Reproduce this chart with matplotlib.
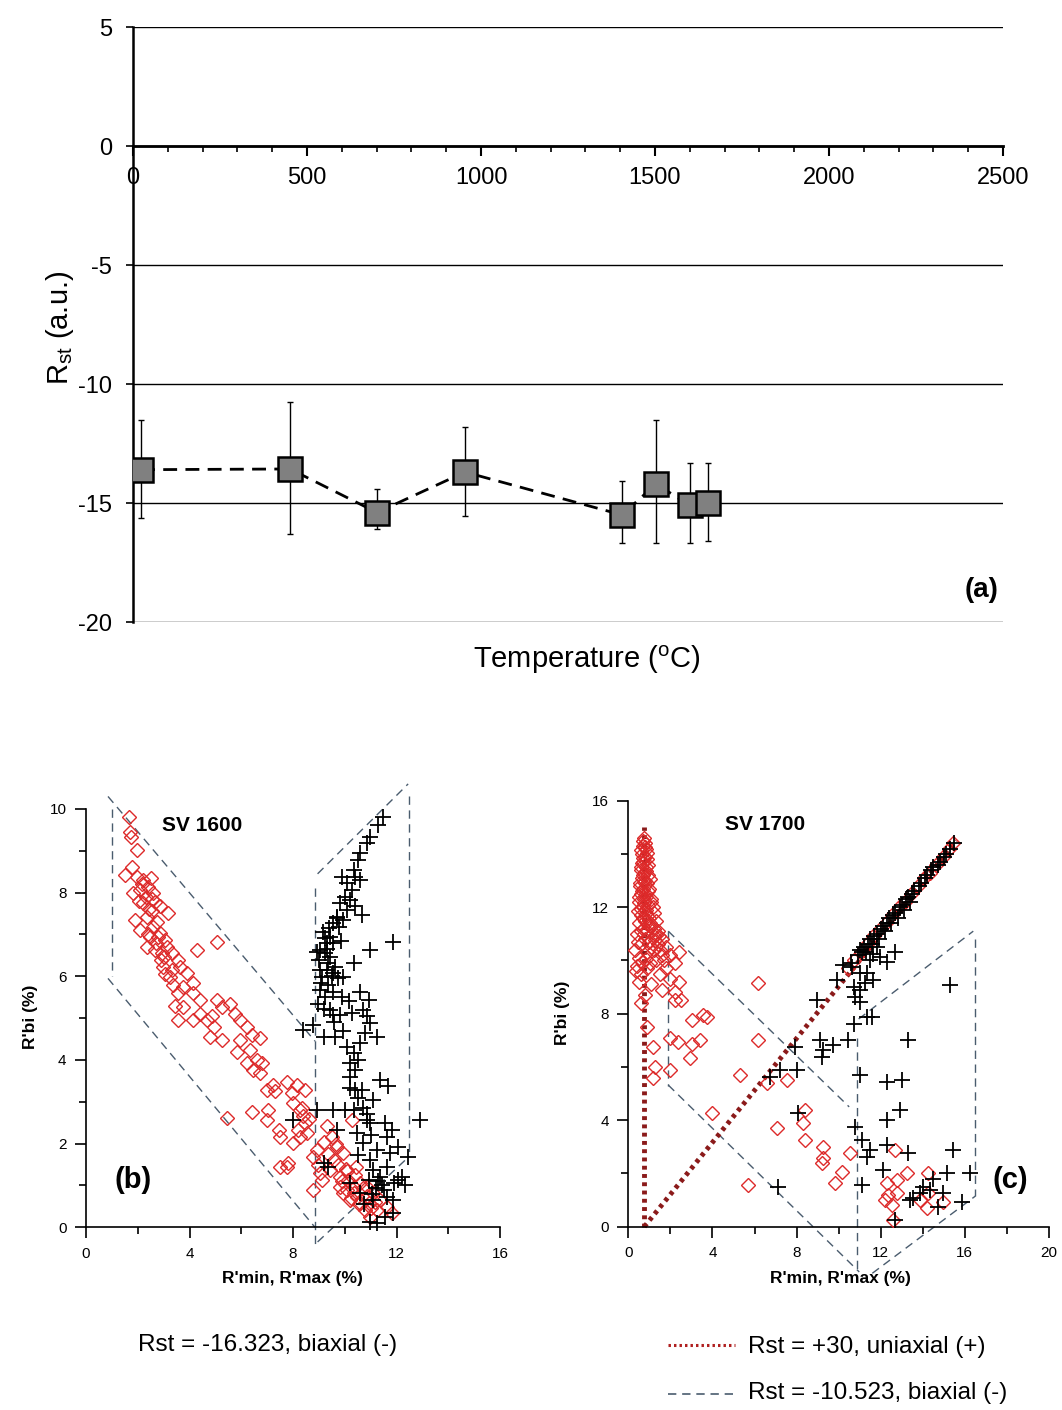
import matplotlib
matplotlib.use("Agg")
import matplotlib.pyplot as plt
from matplotlib.lines import Line2D
from matplotlib.ticker import MultipleLocator, FixedLocator

plt.rcParams['font.family'] = ['Liberation Sans', 'DejaVu Sans']
plt.rcParams['axes.unicode_minus'] = False
NARROW = ['Liberation Sans Narrow', 'Liberation Sans', 'DejaVu Sans']

# ---------------- panel (a) data ----------------
temp = [23, 451, 701, 954, 1405, 1503, 1600, 1652]
rst = [-13.6, -13.57, -15.4, -13.7, -15.5, -14.2, -15.1, -15.0]
err_low = [2.05, 2.73, 0.7, 1.85, 1.2, 2.5, 1.6, 1.6]
err_up = [2.1, 2.82, 0.97, 1.9, 1.44, 2.7, 1.8, 1.7]
a_yticks = [5, 0, -5, -10, -15, -20]
a_xticks = [0, 500, 1000, 1500, 2000, 2500]

# ---------------- panel (b) data : SV 1600 ----------------
b_dia_x = [1.68, 1.70, 1.73, 1.96, 1.77, 1.51, 1.96, 2.22, 1.83, 2.09, 2.41, 2.60, 2.67, 2.22, 1.89,
           2.35, 2.86, 3.18, 2.09, 2.60, 2.47, 2.86, 3.06, 2.35, 2.67, 3.12, 3.31, 4.28, 5.05, 2.99,
           3.31, 3.64, 3.25, 3.89, 4.15, 3.76, 3.57, 4.15, 4.41, 3.76, 3.57, 4.15, 4.41, 4.67, 4.86,
           5.05, 5.25, 5.57, 5.76, 5.95, 4.93, 4.80, 5.25, 6.21, 6.40, 6.73, 5.95, 5.82, 6.34, 6.60,
           6.47, 6.79, 6.21, 6.73, 6.99, 7.24, 7.31, 7.76, 8.14, 8.47, 7.95, 8.01, 8.27, 8.40, 8.47,
           8.21, 8.53, 8.27, 8.01, 7.44, 7.50, 7.05, 6.40, 5.44, 7.50, 7.82, 6.99, 7.76, 8.92, 8.79,
           8.98, 8.79, 9.12, 9.31, 9.50, 9.69, 9.95, 10.27, 9.44, 9.82, 10.14, 10.34, 9.95, 10.21, 10.47,
           10.60, 10.79, 10.98, 11.24, 11.63, 11.37, 11.11, 10.85, 10.60, 10.34, 10.08, 10.92, 9.82, 11.82,
           2.90, 2.45, 3.45, 9.60, 10.05,
           2.05, 2.30, 2.55, 2.75, 2.15, 2.50, 2.80, 3.00, 2.40, 2.70, 3.35, 3.55, 3.05, 2.95, 2.55,
           9.35, 9.75, 10.10, 10.40, 10.70, 10.25, 9.90, 10.55, 11.00, 10.45, 9.65, 10.85, 11.15,
           8.60, 8.35, 9.05, 9.20]
b_dia_y = [9.82, 9.46, 9.34, 9.02, 8.62, 8.42, 8.38, 8.30, 7.98, 8.06, 8.14, 7.98, 7.78, 7.75, 7.35,
           7.43, 7.67, 7.51, 7.11, 7.19, 6.95, 7.03, 6.87, 6.71, 6.63, 6.71, 6.55, 6.63, 6.83, 6.23,
           6.15, 6.23, 5.99, 6.07, 5.83, 5.75, 5.59, 5.59, 5.43, 5.27, 4.96, 4.96, 5.11, 4.96, 5.04,
           5.43, 5.27, 5.35, 5.11, 4.96, 4.80, 4.56, 4.48, 4.80, 4.60, 4.52, 4.48, 4.20, 4.24, 4.00,
           3.76, 3.92, 3.92, 3.68, 3.29, 3.40, 3.25, 3.48, 3.40, 3.29, 3.21, 2.96, 2.80, 2.65, 2.49,
           2.33, 2.25, 2.17, 2.01, 2.33, 2.17, 2.80, 2.76, 2.61, 1.45, 1.53, 2.57, 1.45, 1.85, 1.69,
           1.49, 0.89, 1.13, 2.41, 2.17, 1.93, 1.77, 2.57, 1.37, 1.21, 1.13, 0.97, 0.81, 0.65, 0.73,
           0.57, 0.41, 0.25, 0.41, 0.49, 0.65, 0.81, 0.97, 1.05, 0.81, 0.89, 0.57, 0.97, 0.33,
           6.40, 7.60, 5.30, 1.60, 1.40,
           7.80, 7.90, 7.55, 7.30, 8.20, 8.35, 6.95, 6.45, 7.00, 6.80, 5.80, 6.40, 6.05, 6.55, 7.85,
           1.75, 1.50, 1.35, 1.25, 0.95, 0.70, 1.10, 0.55, 0.45, 1.45, 2.00, 0.75, 0.60,
           2.60, 2.85, 1.30, 2.05]
b_crs_x = [11.49, 11.30, 10.98, 10.85, 10.60, 10.53, 10.34, 10.40, 9.88, 10.08, 10.60, 10.27, 10.01, 9.82,
           10.21, 10.40, 10.66, 10.08, 9.69, 9.56, 9.76, 9.95, 9.44, 9.24, 9.31, 9.56, 9.05, 8.92, 9.24,
           9.44, 9.37, 9.63, 9.05, 9.31, 9.56, 9.95, 10.34, 10.98, 11.88, 9.11, 9.05, 9.24, 9.56, 9.88,
           8.98, 9.18, 9.44, 9.56, 9.82, 10.27, 10.60, 10.92, 10.72, 10.85, 10.98, 11.24, 10.79, 10.60,
           9.18, 9.63, 8.40, 8.79, 10.08, 10.34, 10.21, 10.40, 10.53, 10.21, 10.21, 10.40, 10.66, 11.37,
           11.69, 11.11, 8.92, 9.56, 10.01, 10.34, 10.85, 10.98, 12.91, 10.85, 11.56, 11.82, 9.69, 10.46,
           11.63, 12.07, 12.46, 10.72, 11.24, 10.53, 10.98, 11.75, 9.18, 9.37, 8.01, 11.11, 11.63, 12.07,
           12.33, 11.37, 11.43, 10.92, 10.60, 11.11, 11.63, 11.88, 11.88, 11.56, 10.98, 11.24, 10.21,
           11.20, 11.30, 11.05, 11.50, 10.75,
           9.15, 9.40, 9.70, 9.00, 9.30, 9.85, 9.50, 9.10, 10.15, 9.75, 9.35, 10.70, 11.00, 12.20, 11.90,
           9.60, 9.95, 10.50]
b_crs_y = [9.82, 9.62, 9.34, 9.18, 8.94, 8.78, 8.54, 8.38, 8.38, 8.22, 8.30, 8.06, 7.90, 7.75,
           7.82, 7.67, 7.47, 7.59, 7.43, 7.27, 7.19, 7.35, 6.95, 6.91, 6.79, 6.79, 6.63, 6.59, 6.55,
           6.47, 6.31, 6.23, 6.15, 6.15, 6.07, 5.99, 6.31, 6.63, 6.83, 5.99, 5.67, 5.51, 5.63, 5.51,
           5.35, 5.23, 5.19, 5.08, 5.08, 5.12, 5.63, 5.43, 5.19, 5.04, 4.88, 4.56, 4.64, 4.40,
           4.56, 4.56, 4.72, 4.84, 4.32, 4.16, 3.92, 3.76, 4.00, 3.60, 3.33, 3.29, 3.29, 3.52,
           3.37, 3.05, 2.80, 2.80, 2.80, 2.80, 2.72, 2.49, 2.57, 2.57, 2.49, 2.33, 2.33, 2.25,
           2.17, 1.93, 1.69, 2.01, 1.85, 1.73, 1.61, 1.77, 1.53, 1.45, 2.57, 1.37, 1.45, 1.13,
           1.01, 1.21, 1.01, 1.13, 0.81, 0.65, 0.73, 0.65, 0.33, 0.25, 0.13, 0.10, 1.05,
           0.95, 1.10, 0.80, 0.90, 0.55,
           7.05, 7.15, 7.40, 6.40, 6.65, 6.85, 6.00, 5.85, 5.40, 5.95, 5.80, 2.85, 2.20, 1.20, 1.05,
           4.90, 4.70, 3.10]

# dashed guide segments of panel (b): (x0, x1, y0, y1)
b_guides = [(1.0, 1.0, 10.0, 6.0), (0.85, 8.85, 10.3, 4.45), (0.85, 8.85, 5.95, 0.0),
            (8.85, 8.85, 8.1, -0.4), (8.95, 12.45, 8.45, 10.6), (12.5, 12.5, 10.3, 1.7),
            (8.95, 12.5, -0.35, 1.7)]

# ---------------- panel (c) data : SV 1700 ----------------
c_dia_x = [0.75, 0.80, 0.70, 0.85, 0.65, 0.80, 0.90, 0.70, 0.60, 0.85, 0.75, 0.95, 0.65, 0.80, 0.55,
           0.90, 0.70, 1.00, 0.60, 0.85, 0.75, 1.10, 0.50, 0.95, 0.70, 0.85, 1.20, 0.60, 1.00, 0.80,
           1.30, 0.50, 1.10, 0.70, 0.90, 1.40, 0.40, 1.20, 0.80, 1.60, 1.00, 0.60, 1.40, 1.80, 0.30,
           1.20, 0.90, 1.60, 2.00, 2.40, 0.50, 1.30, 2.20, 0.40, 0.90, 1.80, 1.50, 0.60, 2.00, 2.40,
           0.50, 1.10, 1.60, 2.20, 0.80, 2.50, 0.60, 2.20,
           0.70, 0.78, 0.62, 0.88, 0.72, 0.66, 0.92, 0.58, 0.82, 0.68, 1.02, 0.74, 0.56, 0.96, 0.64,
           0.86, 0.52, 1.06, 0.76, 0.62, 1.16, 0.84, 0.48, 1.04, 0.70, 1.24, 0.94, 0.58, 1.34, 0.76,
           1.10, 0.45, 1.50, 0.85, 1.25, 0.65, 1.70, 1.05, 0.35, 1.45,
           3.01, 3.57, 3.72, 0.87, 1.19, 1.27, 1.19, 1.98, 1.98, 2.38, 3.01, 3.41, 2.93, 6.18, 6.18,
           3.96, 5.31, 6.58, 7.53, 7.05, 8.40, 8.32, 8.40, 9.27, 9.27, 9.19, 10.54, 10.14, 9.83, 5.71,
           12.68, 12.28, 12.76, 13.23, 12.36, 12.76, 12.20, 12.60, 14.26, 14.18, 14.98, 14.26, 13.87, 12.52,
           11.05, 11.35, 11.65, 11.95, 12.25, 12.55, 12.85, 13.15, 13.45, 13.75, 14.05, 14.35, 14.65,
           14.95, 15.25, 15.45, 10.75, 10.45]
c_dia_y = [14.6, 14.4, 14.3, 14.2, 14.0, 13.9, 13.8, 13.7, 13.5, 13.5, 13.3, 13.2, 13.1, 13.0, 12.9,
           12.9, 12.7, 12.7, 12.5, 12.5, 12.3, 12.3, 12.2, 12.1, 12.0, 11.9, 11.8, 11.7, 11.6, 11.5,
           11.5, 11.4, 11.3, 11.2, 11.1, 11.1, 11.0, 10.9, 10.8, 10.8, 10.7, 10.6, 10.6, 10.5, 10.4,
           10.4, 10.3, 10.2, 10.2, 10.3, 10.1, 10.0, 9.9, 9.8, 9.7, 9.7, 9.5, 9.5, 9.3, 9.2,
           9.2, 9.1, 8.9, 8.8, 8.7, 8.5, 8.4, 8.5,
           14.5, 14.25, 14.15, 14.05, 13.85, 13.65, 13.6, 13.4, 13.35, 13.2, 13.05, 12.95, 12.8, 12.6, 12.6,
           12.4, 12.4, 12.2, 12.15, 11.95, 12.0, 11.8, 11.85, 11.4, 11.6, 11.2, 11.35, 11.1, 10.95, 11.0,
           10.5, 10.7, 10.4, 10.05, 10.75, 9.95, 10.0, 9.9, 9.6, 10.9,
           7.76, 7.95, 7.89, 7.50, 6.76, 6.00, 5.57, 5.88, 7.07, 6.95, 6.88, 7.01, 6.32, 9.14, 7.01,
           4.26, 5.69, 5.38, 5.51, 3.69, 4.38, 3.88, 3.25, 3.00, 2.57, 2.38, 2.75, 2.07, 1.63, 1.56,
           2.88, 1.63, 1.75, 2.00, 1.19, 1.25, 1.00, 0.25, 2.00, 0.69, 0.94, 1.25, 1.00, 0.81,
           10.3, 10.6, 10.9, 11.2, 11.4, 11.7, 12.0, 12.2, 12.5, 12.8, 13.1, 13.3, 13.6,
           13.9, 14.2, 14.4, 10.0, 9.7]
c_crs_x = [10.6, 10.9, 11.1, 11.2, 11.4, 11.5, 11.7, 11.8, 12.0, 12.1, 12.3, 12.4, 12.6, 12.7, 12.9,
           13.0, 13.2, 13.3, 13.5, 13.6, 13.8, 13.9, 14.1, 14.2, 14.4, 14.5, 14.7, 14.8, 15.0, 15.1,
           15.3, 15.5, 11.3, 11.6, 11.9, 12.2, 12.5, 12.8, 13.1, 13.4,
           15.29, 11.01, 11.65, 11.97, 12.28, 12.68, 11.81, 11.49, 10.22, 10.63, 11.01, 11.33, 11.65,
           11.25, 10.71, 11.01, 10.77, 11.01, 11.33, 11.57, 10.71, 8.95, 9.90, 9.11, 9.27, 9.19, 9.75,
           10.46, 13.31, 7.92, 7.21, 8.00, 6.74, 11.01, 12.28, 12.99, 12.92, 12.28, 10.78, 8.08, 11.09,
           11.49, 11.33, 12.28, 13.31, 11.09, 12.12, 15.45, 15.14, 16.24, 14.50, 14.03, 13.87, 13.39,
           14.98, 14.74, 15.85, 12.68, 7.13, 14.34, 13.55]
c_crs_y = [9.9, 10.2, 10.3, 10.5, 10.6, 10.8, 10.9, 11.0, 11.2, 11.3, 11.4, 11.6, 11.7, 11.8, 12.0,
           12.1, 12.3, 12.4, 12.5, 12.6, 12.8, 12.9, 13.1, 13.2, 13.4, 13.5, 13.6, 13.7, 13.9, 14.0,
           14.2, 14.4, 10.3, 10.6, 10.8, 11.1, 11.4, 11.6, 11.9, 12.2,
           9.07, 10.39, 10.26, 10.14, 9.95, 10.33, 10.51, 10.01, 9.82, 9.76, 9.51, 9.51, 9.26,
           9.14, 9.01, 8.89, 8.64, 8.45, 7.88, 7.88, 7.63, 8.51, 9.26, 7.01, 6.63, 6.38, 6.82,
           7.01, 7.01, 6.76, 5.88, 5.88, 5.63, 5.69, 5.44, 5.51, 4.38, 4.00, 3.75, 4.26, 3.25,
           2.88, 2.63, 3.07, 2.75, 1.56, 2.13, 2.88, 2.00, 2.00, 1.81, 1.50, 1.25, 1.00,
           1.25, 0.75, 0.94, 0.25, 1.50, 1.38, 1.06]

# dashed guide segments of panel (c)
c_guides = [(1.9, 1.9, 11.1, 5.3), (1.9, 10.5, 11.1, 4.5), (1.9, 10.98, 5.32, -1.7),
            (10.85, 10.85, 7.1, -1.7), (10.95, 16.4, 7.8, 11.1), (16.5, 16.5, 10.8, 1.15),
            (11.6, 16.5, -1.75, 1.15)]
# uniaxial (+30) dotted guides
c_uni_vert_x = [0.76, 0.76]
c_uni_vert_y = [0.0, 15.0]
c_uni_diag_x = [0.76, 15.6]
c_uni_diag_y = [0.0, 14.5]

# ---------------- figure ----------------
W, H = 1062, 1410
fig = plt.figure(figsize=(W / 100, H / 100), dpi=100)


def fx(px):
    return px / W


def fy(py):
    return 1 - py / H


# ---- panel (a)
axa = fig.add_axes([fx(133), fy(622), (1003 - 133) / W, (622 - 27) / H])
axa.set_xlim(0, 2500)
axa.set_ylim(-20, 5)
for s in ['top', 'right']:
    axa.spines[s].set_visible(False)
axa.spines['bottom'].set_position(('data', 0))
axa.spines['bottom'].set_linewidth(2.0)
axa.spines['left'].set_linewidth(1.8)
axa.set_yticks(a_yticks)
axa.set_xticks(a_xticks)
axa.xaxis.set_minor_locator(MultipleLocator(100))
axa.tick_params(axis='y', direction='out', length=5, width=1.2, labelsize=17, pad=10)
axa.tick_params(axis='x', which='major', direction='out', length=7, width=1.5, labelsize=17, pad=8)
axa.tick_params(axis='x', which='minor', direction='out', length=4, width=1.2)
for v in a_yticks:
    axa.axhline(v, color='black', lw=1.0, zorder=1)
axa.plot(temp, rst, ls=(0, (5, 3)), color='black', lw=2.0, zorder=3)
axa.errorbar(temp, rst, yerr=[err_low, err_up], fmt='none', ecolor='black', elinewidth=1.0,
             capsize=2.5, capthick=1.0, zorder=4)
axa.plot(temp, rst, ls='none', marker='s', markersize=17, markerfacecolor='#808080',
         markeredgecolor='black', markeredgewidth=1.8, zorder=5)
fig.text(fx(60), fy(328), r'R$_{\mathregular{st}}$ (a.u.)', rotation=90, ha='center', va='center',
         fontsize=21)
fig.text(fx(587), fy(660), r'Temperature ($^{\mathregular{o}}$C)', ha='center', va='center', fontsize=21)
fig.text(fx(982), fy(590), '(a)', ha='center', va='center', fontsize=20, fontweight='bold')

# ---- helpers for bottom panels
GUIDE_COL = '#4a5c6e'
RED = '#dd2a2a'


def style_small(ax, xmaj, xmin, ymaj, ymin):
    for s in ['top', 'right']:
        ax.spines[s].set_visible(False)
    for s in ['left', 'bottom']:
        ax.spines[s].set_linewidth(1.2)
    ax.xaxis.set_major_locator(FixedLocator(xmaj))
    ax.xaxis.set_minor_locator(FixedLocator(xmin))
    ax.yaxis.set_major_locator(FixedLocator(ymaj))
    ax.yaxis.set_minor_locator(FixedLocator(ymin))
    ax.tick_params(which='major', direction='out', length=8, width=1.2, labelsize=11, pad=6)
    ax.tick_params(which='minor', direction='out', length=5, width=1.2)
    for lab in ax.get_xticklabels() + ax.get_yticklabels():
        lab.set_family(NARROW)


# ---- panel (b)
axb = fig.add_axes([fx(86), fy(1227.3), 414 / W, (1227.3 - 809) / H])
axb.set_xlim(0, 16)
axb.set_ylim(0, 10)
style_small(axb, [0, 4, 8, 12, 16], [2, 6, 10, 14], [0, 2, 4, 6, 8, 10], [1, 3, 5, 7, 9])
for (x0, x1, y0, y1) in b_guides:
    axb.plot([x0, x1], [y0, y1], ls=(0, (6, 4)), color=GUIDE_COL, lw=1.0, clip_on=False, zorder=2)
axb.plot(b_dia_x, b_dia_y, ls='none', marker='D', markersize=7.5, markerfacecolor='none',
         markeredgecolor=RED, markeredgewidth=1.0, clip_on=False, zorder=3)
axb.plot(b_crs_x, b_crs_y, ls='none', marker='+', markersize=11, color='black',
         markeredgewidth=1.3, clip_on=False, zorder=4)

# ---- panel (c)
axc = fig.add_axes([fx(628.3), fy(1226.7), (1049 - 628.3) / W, (1226.7 - 800.7) / H])
axc.set_xlim(0, 20)
axc.set_ylim(0, 16)
style_small(axc, [0, 4, 8, 12, 16, 20], [2, 6, 10, 14, 18], [0, 4, 8, 12, 16], [2, 6, 10, 14])
for (x0, x1, y0, y1) in c_guides:
    axc.plot([x0, x1], [y0, y1], ls=(0, (6, 4)), color=GUIDE_COL, lw=1.0, clip_on=False, zorder=2)
axc.plot(c_uni_vert_x, c_uni_vert_y, ls=(0, (0.8, 0.9)), color='#8b1a1a', lw=3.5, zorder=2.5,
         clip_on=False)
axc.plot(c_uni_diag_x, c_uni_diag_y, ls=(0, (0.8, 0.9)), color='#8b1a1a', lw=3.5, zorder=2.5,
         clip_on=False)
axc.plot(c_dia_x, c_dia_y, ls='none', marker='D', markersize=7.5, markerfacecolor='none',
         markeredgecolor=RED, markeredgewidth=1.0, clip_on=False, zorder=3)
axc.plot(c_crs_x, c_crs_y, ls='none', marker='+', markersize=11, color='black',
         markeredgewidth=1.3, clip_on=False, zorder=4)

# ---- bottom panel texts
fig.text(fx(202), fy(826), 'SV 1600', ha='center', va='center', fontsize=15, fontweight='bold')
fig.text(fx(765), fy(825), 'SV 1700', ha='center', va='center', fontsize=15, fontweight='bold')
fig.text(fx(133), fy(1180), '(b)', ha='center', va='center', fontsize=21, fontweight='bold')
fig.text(fx(1010), fy(1180), '(c)', ha='center', va='center', fontsize=21, fontweight='bold')
fig.text(fx(30), fy(1017), "R'bi (%)", rotation=90, ha='center', va='center', fontsize=12.5,
         fontweight='bold', family=NARROW)
fig.text(fx(563), fy(1013), "R'bi (%)", rotation=90, ha='center', va='center', fontsize=12.5,
         fontweight='bold', family=NARROW)
fig.text(fx(292), fy(1278), "R'min, R'max (%)", ha='center', va='center', fontsize=12.5,
         fontweight='bold', family=NARROW)
fig.text(fx(840), fy(1278), "R'min, R'max (%)", ha='center', va='center', fontsize=12.5,
         fontweight='bold', family=NARROW)

# ---- legend-like annotations
fig.text(fx(268), fy(1345), 'Rst = -16.323, biaxial (-)', ha='center', va='center', fontsize=17.5,
         family=NARROW)
fig.text(fx(748), fy(1347), 'Rst = +30, uniaxial (+)', ha='left', va='center', fontsize=17.5,
         family=NARROW)
fig.text(fx(748), fy(1393), 'Rst = -10.523, biaxial (-)', ha='left', va='center', fontsize=17.5,
         family=NARROW)
fig.add_artist(Line2D([fx(668), fx(735)], [fy(1345), fy(1345)], transform=fig.transFigure,
                      color='#b02020', lw=2.2, ls=(0, (0.8, 1.0))))
fig.add_artist(Line2D([fx(668), fx(735)], [fy(1394), fy(1394)], transform=fig.transFigure,
                      color=GUIDE_COL, lw=1.2, ls=(0, (5, 3.5))))

fig.savefig('out.png', dpi=100)
